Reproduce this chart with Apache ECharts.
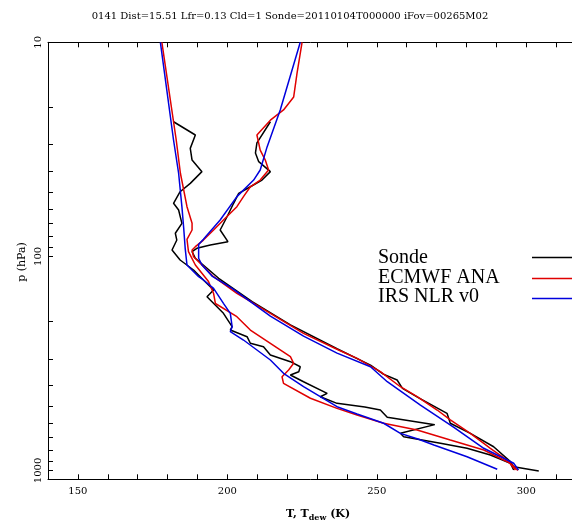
<!DOCTYPE html>
<html><head><meta charset="utf-8">
<script src="https://cdn.jsdelivr.net/npm/echarts@6/dist/echarts.min.js"></script>
<style>html,body{margin:0;padding:0;background:#fff}#c{width:572px;height:522px}</style>
</head><body><div id="c"></div>
<script>
// Tick values
const xTickLabels = [150, 200, 250, 300];
const pTickLabels = [10, 100, 1000];
const pTicks = [10, 20, 30, 40, 50, 60, 70, 80, 90, 100, 200, 300, 400, 500, 600, 700, 800, 900, 1000];
const legendNames = ['Sonde', 'ECMWF ANA', 'IRS NLR v0'];
const titleText = '0141 Dist=15.51 Lfr=0.13 Cld=1 Sonde=20110104T000000 iFov=00265M02';

// [T (K), p (hPa)]
const sondeTemp = [[214.4,23.5],[209.9,29.5],[209.4,32.9],[210.5,36.1],[214.4,40.2],[211.6,44.0],[207.7,47.3],[203.8,50.8],[202.1,56.5],[199.9,65.3],[197.6,75.3],[200.2,85.4],[194.3,88.5],[189.8,91.7],[188.2,95.1],[189.3,102.1],[197.1,126.6],[208.3,162.8],[221.1,209],[236.7,270],[247.9,322],[252.2,355],[256.8,378],[258.6,414],[263.9,457],[273.5,541],[274.6,602],[281.3,671],[289.1,775],[294.7,910],[295.8,961],[304.2,1005]];
const sondeDew = [[182.0,23.5],[189.3,27.1],[187.6,31.3],[188.2,35.5],[191.5,40.2],[187.6,45.6],[184.2,49.9],[182.0,56.5],[183.7,60.7],[184.8,70.1],[182.6,78.0],[183.1,83.9],[181.5,93.4],[184.2,104],[188.7,115.8],[192.0,128.9],[195.4,143.6],[193.2,154.3],[198.7,184.5],[201.6,213.1],[201.0,220.8],[206.6,237.3],[207.7,254.7],[212.1,264.2],[214.4,288.9],[221.1,310.5],[224.4,327.7],[223.9,345.8],[221.1,358.3],[225.5,385.1],[233.4,436.3],[231.1,452.5],[236.7,486],[246.0,505],[251.2,522],[253.5,565],[269.4,611],[257.9,671],[259.0,696],[271.3,747],[280.2,788],[288.0,847],[294.7,926],[295.8,995]];
const ecmwfTemp = [[225.0,10],[223.3,14.0],[222.2,18.0],[218.8,20.7],[214.4,23.1],[209.9,27.1],[211.0,31.9],[212.7,35.5],[213.8,39.5],[211.0,44.0],[207.7,47.3],[205.4,52.6],[203.2,58.6],[198.7,67.6],[195.4,75.3],[192.0,83.9],[189.3,90.1],[188.2,93.4],[188.7,100.4],[192.6,113.7],[195.4,124.4],[203.2,148.8],[214.4,184.5],[225.5,228.8],[237.2,273.8],[243.4,299.4],[251.2,345.8],[257.9,406.4],[263.5,452.5],[270.2,522],[274.6,581],[281.3,671],[285.8,747],[288.0,788],[293.6,894],[296.4,995]];
const ecmwfDew = [[178.1,10],[182.9,28.6],[184.3,40.9],[186.5,58.6],[188.2,70.1],[188.2,75.3],[186.5,83.2],[187.0,95.1],[189.3,109.7],[193.7,131],[195.4,149],[196.0,166],[203.2,191.3],[207.7,220.8],[214.4,254.7],[221.1,294.2],[222.2,315.9],[220.5,339.5],[218.3,364.9],[218.8,391.8],[227.8,460],[236.7,513],[243.4,551],[252.3,602],[263.5,647],[274.6,721],[285.8,803],[294.7,926],[297.2,1000]];
const irsTemp = [[224.4,10],[217.7,20.7],[213.3,30.8],[211.0,39.5],[208.8,44.0],[203.2,52.6],[197.6,67.6],[192.0,83.2],[190.4,88],[190.4,102],[191.5,109.7],[195.0,124],[201.6,141],[214.4,190],[225.5,236],[236.7,283],[247.9,328],[253.5,385],[264.6,495],[275.8,630],[285.8,788],[295.8,926],[297.4,995]];
const irsDew = [[177.6,10],[182.0,28.6],[183.7,40.9],[184.8,58.6],[185.4,73.7],[185.9,91.7],[186.5,109.7],[190.4,124.4],[192.0,128.9],[195.4,141],[198.7,165.7],[201.0,184.5],[201.6,213.1],[201.0,224.9],[205.4,245.9],[209.9,273.8],[214.4,304.9],[218.8,351.8],[225.5,406.4],[231.1,452.5],[236.7,503.9],[243.4,545],[252.3,602],[257.9,671],[264.0,715],[269.1,760],[280.2,863],[290.3,988]];

const colors = ['#000000', '#e00000', '#0000dd'];
const serif = 'DejaVu Serif';
const legSerif = 'Liberation Serif';
const X_MIN = 140, X_MAX = 320;

const chart = echarts.init(document.getElementById('c'), null, {renderer: 'canvas'});

function line(name, data, color) {
  return {name, type: 'line', data, showSymbol: false, symbol: 'none', clip: true,
    lineStyle: {color, width: 1.5}, itemStyle: {color}, silent: true, animation: false};
}

const axisCommon = {
  axisLine: {show: true, lineStyle: {color: '#000', width: 1}},
  axisTick: {show: true, inside: true, length: 5, lineStyle: {color: '#000', width: 1}},
  splitLine: {show: false}
};

const legendGraphics = [];
legendNames.forEach((n, i) => {
  const yy = [258, 278, 297][i];
  const ly = [257.5, 278.5, 298.5][i];
  legendGraphics.push({type: 'text', x: 378, y: yy, silent: true,
    style: {text: n, fill: '#000', font: '20px "' + legSerif + '"', textAlign: 'left', textVerticalAlign: 'middle'}});
  legendGraphics.push({type: 'line', silent: true, shape: {x1: 532, y1: ly, x2: 572, y2: ly},
    style: {stroke: colors[i], lineWidth: 1.5}});
});

const option = {
  animation: false,
  backgroundColor: '#fff',
  grid: {left: 48, top: 42.3, width: 538, height: 437, containLabel: false, outerBoundsMode: 'none'},
  xAxis: [
    Object.assign({type: 'value', min: X_MIN, max: X_MAX, interval: 10, position: 'bottom',
      axisLabel: {formatter: v => xTickLabels.includes(v) ? String(v) : '', color: '#000', fontFamily: serif, fontSize: 10, margin: 7}}, axisCommon),
    Object.assign({type: 'value', min: X_MIN, max: X_MAX, interval: 10, position: 'top',
      axisLabel: {show: false}}, axisCommon)
  ],
  yAxis: {
    type: 'log', logBase: 10, min: 10, max: 1100, inverse: true,
    axisLine: {show: true, lineStyle: {color: '#000', width: 1}},
    axisTick: {show: false},
    axisLabel: {customValues: pTickLabels, rotate: 90, color: '#000', fontFamily: serif, fontSize: 10, margin: 5,
      formatter: v => String(Math.round(v))},
    splitLine: {show: false}
  },
  series: [
    {
      name: 'pticks', type: 'custom', silent: true, clip: false,
      data: pTicks.map(p => [X_MIN, p]),
      renderItem: (params, api) => {
        const pt = api.coord([api.value(0), api.value(1)]);
        const y = Math.round(pt[1]) + 0.5;
        return {type: 'line', shape: {x1: pt[0], y1: y, x2: pt[0] + 5, y2: y},
          style: {stroke: '#000', lineWidth: 1}};
      }
    },
    line('Sonde T', sondeTemp, colors[0]),
    line('Sonde Td', sondeDew, colors[0]),
    line('ECMWF T', ecmwfTemp, colors[1]),
    line('ECMWF Td', ecmwfDew, colors[1]),
    line('IRS T', irsTemp, colors[2]),
    line('IRS Td', irsDew, colors[2])
  ],
  graphic: [
    {type: 'text', x: 290, y: 16, silent: true,
      style: {text: titleText, fill: '#000', font: '10px "' + serif + '"', textAlign: 'center', textVerticalAlign: 'middle'}},
    {type: 'text', x: 22, y: 262, rotation: Math.PI / 2, silent: true,
      style: {text: 'p (hPa)', fill: '#000', font: '11px "' + serif + '"', textAlign: 'center', textVerticalAlign: 'middle'}},
    {type: 'text', x: 318, y: 514, silent: true,
      style: {text: '{a|T, T}{b|dew}{a| (K)}', textAlign: 'center', textVerticalAlign: 'middle',
        rich: {a: {fontFamily: serif, fontSize: 11, fill: '#000', fontWeight: 'bold'},
               b: {fontFamily: serif, fontSize: 8, fill: '#000', fontWeight: 'bold', padding: [7, 0, 0, 0]}}}}
  ].concat(legendGraphics)
};
chart.setOption(option);
</script></body></html>
